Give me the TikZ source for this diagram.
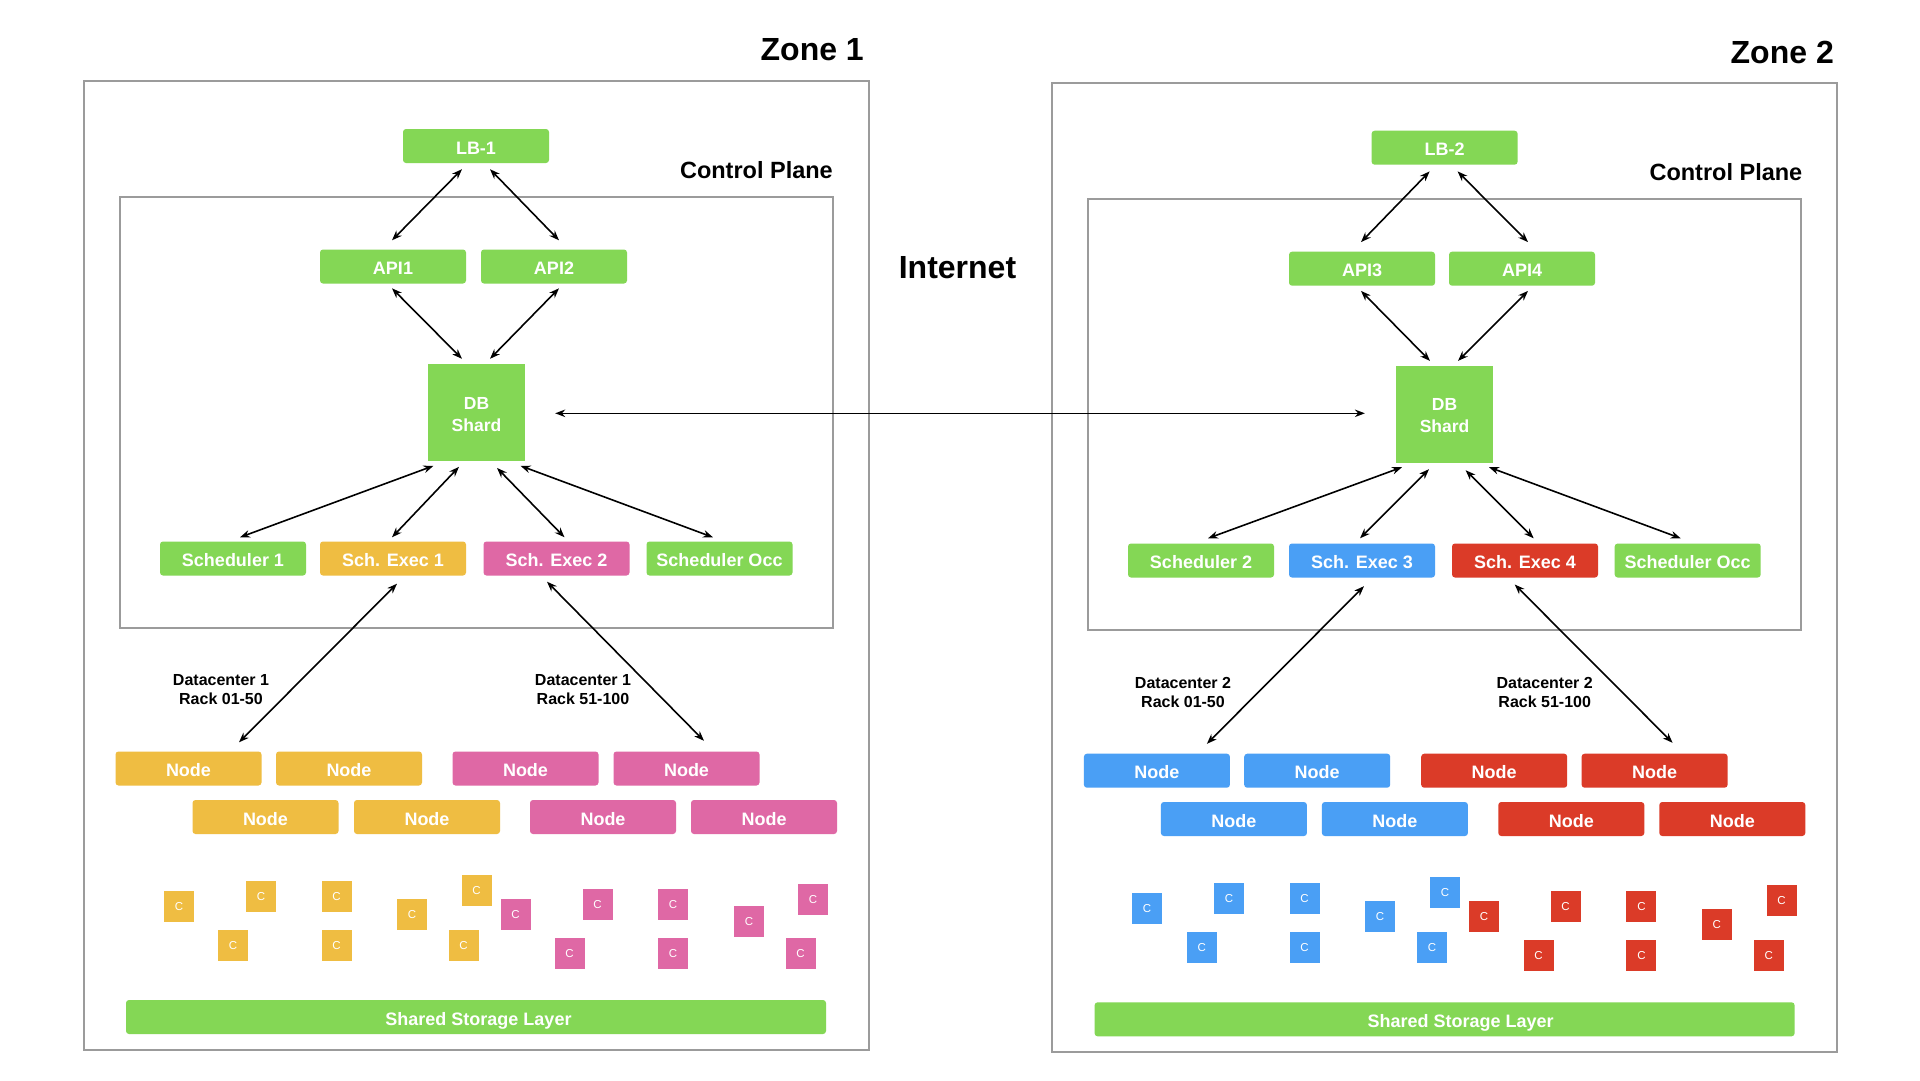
\documentclass[tikz,border=0pt]{standalone}
\usepackage{fontspec}
\setmainfont{Liberation Sans}
\usetikzlibrary{arrows.meta}
\definecolor{cgreen}{HTML}{84D755}
\definecolor{cyellow}{HTML}{EFBD42}
\definecolor{cpink}{HTML}{DF68A5}
\definecolor{cblue}{HTML}{4A9FF5}
\definecolor{cred}{HTML}{DB3B28}
\definecolor{cgray}{HTML}{9B9B9B}
\newcommand{\dbtext}{\raisebox{0pt}[\dimexpr\height+7pt\relax][\depth]{\begin{tabular}{@{}c@{}}DB\\[1pt]Shard\end{tabular}}}
\tikzset{
  frame/.style={draw=cgray, line width=2.2pt},
  box/.style={rounded corners=3pt, minimum width=146pt, minimum height=34pt, inner sep=0pt,
    text=white, font=\fontsize{18}{21}\selectfont\bfseries, text height=16.5pt, text depth=0pt},
  dbbox/.style={minimum width=97pt, minimum height=97pt, inner sep=0pt, fill=cgreen,
    text=white, font=\fontsize{17.5}{21}\selectfont\bfseries},
  cbox/.style={minimum width=30pt, minimum height=31pt, inner sep=0pt, text=white,
    font=\fontsize{11.5}{13}\selectfont, text height=8.7pt, text depth=0pt},
  store/.style={rounded corners=3pt, minimum width=700pt, minimum height=34pt, inner sep=0pt,
    fill=cgreen, text=white, font=\fontsize{18}{21}\selectfont\bfseries, text height=16.5pt, text depth=0pt},
  zonelbl/.style={anchor=east, inner sep=0pt, font=\fontsize{32}{36}\selectfont\bfseries},
  cplbl/.style={anchor=east, inner sep=0pt, font=\fontsize{23.5}{27}\selectfont\bfseries},
  dclbl/.style={align=center, inner sep=0pt, font=\fontsize{16}{19}\selectfont\bfseries},
  conn/.style={line width=1.6pt, {Stealth[length=10pt,width=7.5pt]}-{Stealth[length=10pt,width=7.5pt]}},
}
\begin{document}
\begin{tikzpicture}[x=1pt,y=-1pt]
\useasboundingbox[fill=white] (0,0) rectangle (1920,1080);

% ---------------- Zone 1 ----------------
\draw[frame] (84,81) rectangle (869,1050);
\draw[frame] (120,197) rectangle (833,628);
\node[zonelbl] (z1) at (864,50) {Zone 1};
\node[cplbl] (cp1) at (833,170) {Control Plane};

\node[box, fill=cgreen] (LB1) at (476,146) {LB-1};
\node[box, fill=cgreen] (API1) at (393,266.5) {API1};
\node[box, fill=cgreen] (API2) at (554,266.5) {API2};
\node[dbbox] (DB1) at (476.5,412.5) {\dbtext};
\node[box, fill=cgreen] (S1) at (233,558.5) {Scheduler 1};
\node[box, fill=cyellow] (E1) at (393,558.5) {Sch. Exec 1};
\node[box, fill=cpink] (E2) at (556.5,558.5) {Sch. Exec 2};
\node[box, fill=cgreen] (O1) at (719.5,558.5) {Scheduler Occ};

\node[dclbl] (dc1a) at (221,690) {Datacenter 1\\Rack 01-50};
\node[dclbl] (dc1b) at (583,690) {Datacenter 1\\Rack 51-100};

\node[box, fill=cyellow] (N1a) at (188.5,768.5) {Node};
\node[box, fill=cyellow] (N1b) at (349,768.5) {Node};
\node[box, fill=cpink] (N1c) at (525.5,768.5) {Node};
\node[box, fill=cpink] (N1d) at (686.5,768.5) {Node};
\node[box, fill=cyellow] (N1e) at (265.5,817) {Node};
\node[box, fill=cyellow] (N1f) at (427,817) {Node};
\node[box, fill=cpink] (N1g) at (603,817) {Node};
\node[box, fill=cpink] (N1h) at (764,817) {Node};

\foreach \x/\y [count=\i] in {179/906, 261/896.5, 336.5/896.5, 233/945.5, 336.5/945.5, 412/914.5, 476.5/890, 463.5/945.5}
  \node[cbox, fill=cyellow] (cy\i) at (\x,\y) {C};
\foreach \x/\y [count=\i] in {515.5/914.5, 597.5/904.5, 673/904.5, 569.5/953.5, 673/953.5, 749/921.5, 813/899.5, 800.5/953.5}
  \node[cbox, fill=cpink] (cp\i) at (\x,\y) {C};

\node[store] (ST1) at (476,1017) {\hspace*{5pt}Shared Storage Layer};

\draw[conn] ([xshift=-14pt,yshift=-6pt]LB1.south) -- ([xshift=-1pt,yshift=9pt]API1.north);
\draw[conn] ([xshift=14pt,yshift=-6pt]LB1.south) -- ([xshift=5pt,yshift=9pt]API2.north);
\draw[conn] ([xshift=-1pt,yshift=-4.6pt]API1.south) -- ([xshift=-14.5pt,yshift=5pt]DB1.north);
\draw[conn] ([xshift=5pt,yshift=-4.6pt]API2.south) -- ([xshift=13.5pt,yshift=5pt]DB1.north);
\draw[conn] ([xshift=-43pt,yshift=-4.6pt]DB1.south) -- ([xshift=7pt,yshift=4pt]S1.north);
\draw[conn] ([xshift=-17.5pt,yshift=-5.6pt]DB1.south) -- ([xshift=-1pt,yshift=4pt]E1.north);
\draw[conn] ([xshift=20.5pt,yshift=-6.7pt]DB1.south) -- ([xshift=8pt,yshift=4pt]E2.north);
\draw[conn] ([xshift=44pt,yshift=-4.6pt]DB1.south) -- ([xshift=-6.5pt,yshift=4pt]O1.north);
\draw[conn] ([xshift=4pt,yshift=-8pt]E1.south) -- ([xshift=50.5pt,yshift=9pt]N1a.north);
\draw[conn] ([xshift=-9.5pt,yshift=-6pt]E2.south) -- ([xshift=17.5pt,yshift=10.5pt]N1d.north);

% ---------------- Internet ----------------
\node[inner sep=0pt, font=\fontsize{32}{36}\selectfont\bfseries] (inet) at (957.5,268) {Internet};

% ---------------- Zone 2 ----------------
\draw[frame] (1052,83) rectangle (1837,1052);
\draw[frame] (1088,199) rectangle (1801,630);
\node[zonelbl] (z2) at (1834,52) {Zone 2};
\node[cplbl] (cp2) at (1802.5,172) {Control Plane};

\node[box, fill=cgreen] (LB2) at (1444.6,147.7) {LB-2};
\node[box, fill=cgreen] (API3) at (1362,268.7) {API3};
\node[box, fill=cgreen] (API4) at (1522,268.7) {API4};
\node[dbbox] (DB2) at (1444.6,414) {\dbtext};
\node[box, fill=cgreen] (S2) at (1201,560.5) {Scheduler 2};
\node[box, fill=cblue] (E3) at (1362,560.5) {Sch. Exec 3};
\node[box, fill=cred] (E4) at (1525,560.5) {Sch. Exec 4};
\node[box, fill=cgreen] (O2) at (1687.7,560.5) {Scheduler Occ};

\node[dclbl] (dc2a) at (1183,692) {Datacenter 2\\Rack 01-50};
\node[dclbl] (dc2b) at (1544.7,692) {Datacenter 2\\Rack 51-100};

\node[box, fill=cblue] (N2a) at (1156.9,770.7) {Node};
\node[box, fill=cblue] (N2b) at (1317.2,770.7) {Node};
\node[box, fill=cred] (N2c) at (1494.2,770.7) {Node};
\node[box, fill=cred] (N2d) at (1654.6,770.7) {Node};
\node[box, fill=cblue] (N2e) at (1233.9,819) {Node};
\node[box, fill=cblue] (N2f) at (1394.9,819) {Node};
\node[box, fill=cred] (N2g) at (1571.3,819) {Node};
\node[box, fill=cred] (N2h) at (1732.3,819) {Node};

\foreach \x/\y [count=\i] in {1147/908, 1229/898, 1304.5/898, 1201.8/947, 1304.5/947, 1380/916.4, 1445/892.6, 1432/947}
  \node[cbox, fill=cblue] (cb\i) at (\x,\y) {C};
\foreach \x/\y [count=\i] in {1484/916, 1565.5/906.4, 1641.4/906.4, 1538.6/955.3, 1641.4/955.3, 1716.7/924.3, 1781.6/900.6, 1768.8/955.3}
  \node[cbox, fill=cred] (cr\i) at (\x,\y) {C};

\node[store] (ST2) at (1444.6,1019.3) {\hspace*{32pt}Shared Storage Layer};

\draw[conn] ([xshift=-15pt,yshift=-6.5pt]LB2.south) -- ([xshift=-1pt,yshift=9.4pt]API3.north);
\draw[conn] ([xshift=13pt,yshift=-6.5pt]LB2.south) -- ([xshift=6pt,yshift=9.4pt]API4.north);
\draw[conn] ([xshift=-1pt,yshift=-5pt]API3.south) -- ([xshift=-14.6pt,yshift=4.4pt]DB2.north);
\draw[conn] ([xshift=6pt,yshift=-5pt]API4.south) -- ([xshift=13.4pt,yshift=4.4pt]DB2.north);
\draw[conn] ([xshift=-42.6pt,yshift=-4.5pt]DB2.south) -- ([xshift=7pt,yshift=5pt]S2.north);
\draw[conn] ([xshift=-15.6pt,yshift=-6.5pt]DB2.south) -- ([xshift=-2pt,yshift=5pt]E3.north);
\draw[conn] ([xshift=21pt,yshift=-7.5pt]DB2.south) -- ([xshift=8.7pt,yshift=5pt]E4.north);
\draw[conn] ([xshift=44.4pt,yshift=-4.5pt]DB2.south) -- ([xshift=-7pt,yshift=5pt]O2.north);
\draw[conn] ([xshift=2pt,yshift=-8.5pt]E3.south) -- ([xshift=50pt,yshift=9.7pt]N2a.north);
\draw[conn] ([xshift=-10.3pt,yshift=-6.8pt]E4.south) -- ([xshift=18pt,yshift=10.7pt]N2d.north);

% ---------------- DB link ----------------
\draw[conn] ([xshift=30pt,yshift=-0.8pt]DB1.east) -- ([xshift=-31pt,yshift=0.7pt]DB2.west);
\end{tikzpicture}
\end{document}
